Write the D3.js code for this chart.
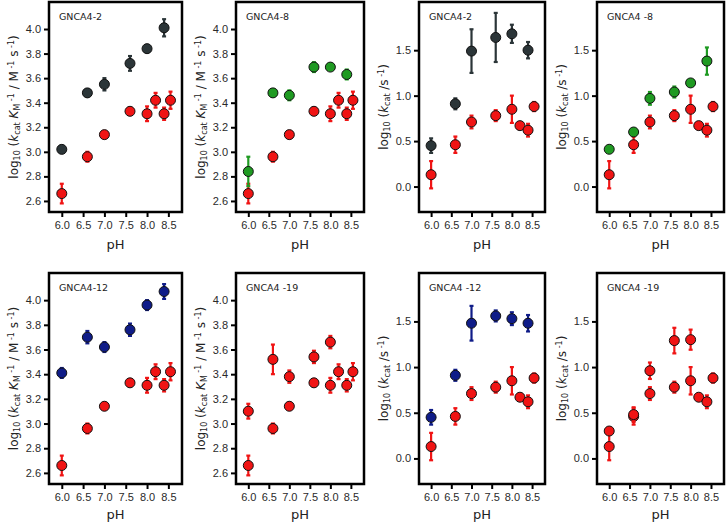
<!DOCTYPE html>
<meta charset="utf-8">
<head>
<style>
  body { margin: 0; background: #fff; }
  svg { font-family: 'DejaVu Sans', sans-serif; }
  .tick text { fill: #2a2a2a; font-size: 11px; }
  .frame { fill: none; stroke: #000; stroke-width: 2.5px; }
  .ttl { font-size: 9.5px; fill: #222; }
  .ylab { font-size: 12px; fill: #222; }
  .xlab { font-size: 13px; fill: #222; }
</style>
</head>
<body>
<svg width="726" height="525"></svg>
<script src="https://d3js.org/d3.v7.min.js"></script>
<script>
// reference (red) series, same in every panel
const phRef = [6.0, 6.6, 7.0, 7.6, 8.0, 8.2, 8.4, 8.55];
const refKm = [2.66, 2.96, 3.14, 3.33, 3.31, 3.42, 3.31, 3.42];
const refKmErr = [0.08, 0.04, 0.03, 0.03, 0.06, 0.06, 0.05, 0.07];
const refKcat = [0.13, 0.46, 0.71, 0.78, 0.85, 0.67, 0.62, 0.88];
const refKcatErr = [0.15, 0.09, 0.07, 0.06, 0.15, 0.01, 0.07, 0.05];

// variants
const phVar = [6.0, 6.6, 7.0, 7.6, 8.0, 8.4];
const g2Km = [3.02, 3.48, 3.55, 3.72, 3.84, 4.01];
const g2KmErr = [0.01, 0.03, 0.05, 0.06, 0.03, 0.07];
const g2Kcat = [0.45, 0.91, 1.49, 1.64, 1.68, 1.50];
const g2KcatErr = [0.08, 0.06, 0.24, 0.27, 0.10, 0.09];
const g8Km = [2.84, 3.48, 3.46, 3.69, 3.69, 3.63];
const g8KmErr = [0.12, 0.03, 0.04, 0.04, 0.01, 0.04];
const g8Kcat = [0.41, 0.60, 0.97, 1.04, 1.14, 1.38];
const g8KcatErr = [0.03, 0.02, 0.07, 0.06, 0.02, 0.15];
const g12Km = [3.41, 3.70, 3.62, 3.76, 3.96, 4.07];
const g12KmErr = [0.04, 0.05, 0.04, 0.05, 0.04, 0.06];
const g12Kcat = [0.45, 0.91, 1.48, 1.56, 1.53, 1.48];
const g12KcatErr = [0.08, 0.06, 0.19, 0.06, 0.07, 0.09];
const ph19 = [6.0, 6.6, 7.0, 7.6, 8.0];
const g19Km = [3.10, 3.52, 3.38, 3.54, 3.66];
const g19KmErr = [0.06, 0.12, 0.05, 0.05, 0.05];
const g19Kcat = [0.30, 0.48, 0.96, 1.29, 1.30];
const g19KcatErr = [0.01, 0.08, 0.09, 0.14, 0.11];

const phTicks = [6.0, 6.5, 7.0, 7.5, 8.0, 8.5];
const kmTicks = [2.6, 2.8, 3.0, 3.2, 3.4, 3.6, 3.8, 4.0];
const kcatTicks = [0.0, 0.5, 1.0, 1.5];

const RED = '#f01414', DARK = '#2b3538', GREEN = '#1f9a22', BLUE = '#0f1c88';

const panels = [
  {x0: 49, x1: 182, y0: 2, y1: 212, xl: 37, title: 'GNCA4-2', kind: 'km', ph: phVar, v: g2Km, e: g2KmErr, c: DARK},
  {x0: 236, x1: 364, y0: 2, y1: 212, xl: 37, title: 'GNCA4-8', kind: 'km', ph: phVar, v: g8Km, e: g8KmErr, c: GREEN},
  {x0: 419, x1: 545, y0: 2, y1: 212, xl: 37, title: 'GNCA4-2', kind: 'kcat', ph: phVar, v: g2Kcat, e: g2KcatErr, c: DARK},
  {x0: 597, x1: 724, y0: 2, y1: 212, xl: 37, title: 'GNCA4 -8', kind: 'kcat', ph: phVar, v: g8Kcat, e: g8KcatErr, c: GREEN},
  {x0: 49, x1: 182, y0: 273, y1: 484, xl: 35, title: 'GNCA4-12', kind: 'km', ph: phVar, v: g12Km, e: g12KmErr, c: BLUE},
  {x0: 236, x1: 364, y0: 273, y1: 484, xl: 35, title: 'GNCA4 -19', kind: 'km', ph: ph19, v: g19Km, e: g19KmErr, c: RED},
  {x0: 419, x1: 545, y0: 273, y1: 484, xl: 35, title: 'GNCA4 -12', kind: 'kcat', ph: phVar, v: g12Kcat, e: g12KcatErr, c: BLUE},
  {x0: 597, x1: 724, y0: 273, y1: 484, xl: 35, title: 'GNCA4 -19', kind: 'kcat', ph: ph19, v: g19Kcat, e: g19KcatErr, c: RED}
];

const svg = d3.select('svg');

function ylabel(g, kind) {
  const t = g.append('text').attr('class', 'ylab');
  const sub = (s) => t.append('tspan').attr('font-size', '8px').attr('baseline-shift', '-25%').text(s);
  const sup = (s) => t.append('tspan').attr('font-size', '8px').attr('baseline-shift', '45%').text(s);
  const plain = (s) => t.append('tspan').text(s);
  const ital = (s) => t.append('tspan').attr('font-style', 'italic').text(s);
  plain('log'); sub('10'); plain(' ('); ital('k'); sub('cat');
  if (kind == 'km') {
    plain(' '); ital('K'); sub('M'); sup(' -1'); plain(' / M'); sup(' -1'); plain(' s'); sup(' -1'); plain(')');
  } else {
    plain(' /s'); sup(' -1'); plain(')');
  }
  return t;
}

panels.forEach(p => {
  const x = d3.scaleLinear().domain([5.7, 8.82]).range([p.x0, p.x1]);
  const y = p.kind == 'km'
    ? d3.scaleLinear().domain([2.51, 4.22]).range([p.y1, p.y0])
    : d3.scaleLinear().domain([-0.28, 2.03]).range([p.y1, p.y0]);
  const g = svg.append('g');

  g.append('g').attr('transform', `translate(0,${p.y1})`)
    .call(d3.axisBottom(x).tickValues(phTicks).tickFormat(d3.format('.1f')).tickSize(5).tickPadding(4))
    .call(a => a.select('.domain').remove())
    .call(a => a.selectAll('.tick line').attr('stroke', '#000').attr('stroke-width', 2));
  const yt = p.kind == 'km' ? kmTicks : kcatTicks;
  g.append('g').attr('transform', `translate(${p.x0},0)`)
    .call(d3.axisLeft(y).tickValues(yt).tickFormat(d3.format('.1f')).tickSize(5).tickPadding(3))
    .call(a => a.select('.domain').remove())
    .call(a => a.selectAll('.tick line').attr('stroke', '#000').attr('stroke-width', 2));

  g.append('rect').attr('class', 'frame')
    .attr('x', p.x0).attr('y', p.y0).attr('width', p.x1 - p.x0).attr('height', p.y1 - p.y0);

  g.append('text').attr('class', 'ttl').attr('x', p.x0 + 10).attr('y', p.y0 + 18).text(p.title);

  const mid = (p.y0 + p.y1) / 2;
  ylabel(g, p.kind).attr('text-anchor', 'middle')
    .attr('transform', `translate(${p.x0 - 31},${mid}) rotate(-90)`);
  g.append('text').attr('class', 'xlab').attr('text-anchor', 'middle')
    .attr('x', (p.x0 + p.x1) / 2).attr('y', p.y1 + p.xl).text('pH');

  const series = [
    {ph: phRef, v: p.kind == 'km' ? refKm : refKcat, e: p.kind == 'km' ? refKmErr : refKcatErr, c: RED},
    {ph: p.ph, v: p.v, e: p.e, c: p.c}
  ];
  series.forEach(s => {
    const pts = s.ph.map((ph, i) => ({ph: ph, v: s.v[i], e: s.e[i]}));
    const eg = g.append('g').attr('stroke', s.c).attr('stroke-width', 2.2);
    eg.selectAll('line.eb').data(pts).join('line').attr('class', 'eb')
      .attr('x1', d => x(d.ph)).attr('x2', d => x(d.ph))
      .attr('y1', d => y(d.v - d.e)).attr('y2', d => y(d.v + d.e));
    eg.selectAll('line.cap1').data(pts).join('line').attr('class', 'cap1')
      .attr('x1', d => x(d.ph) - 2).attr('x2', d => x(d.ph) + 2)
      .attr('y1', d => y(d.v + d.e)).attr('y2', d => y(d.v + d.e));
    eg.selectAll('line.cap2').data(pts).join('line').attr('class', 'cap2')
      .attr('x1', d => x(d.ph) - 2).attr('x2', d => x(d.ph) + 2)
      .attr('y1', d => y(d.v - d.e)).attr('y2', d => y(d.v - d.e));
    g.selectAll(null).data(pts).join('circle')
      .attr('cx', d => x(d.ph)).attr('cy', d => y(d.v)).attr('r', 5)
      .attr('fill', s.c).attr('stroke', '#111').attr('stroke-width', 1);
  });
});
</script>
</body>
